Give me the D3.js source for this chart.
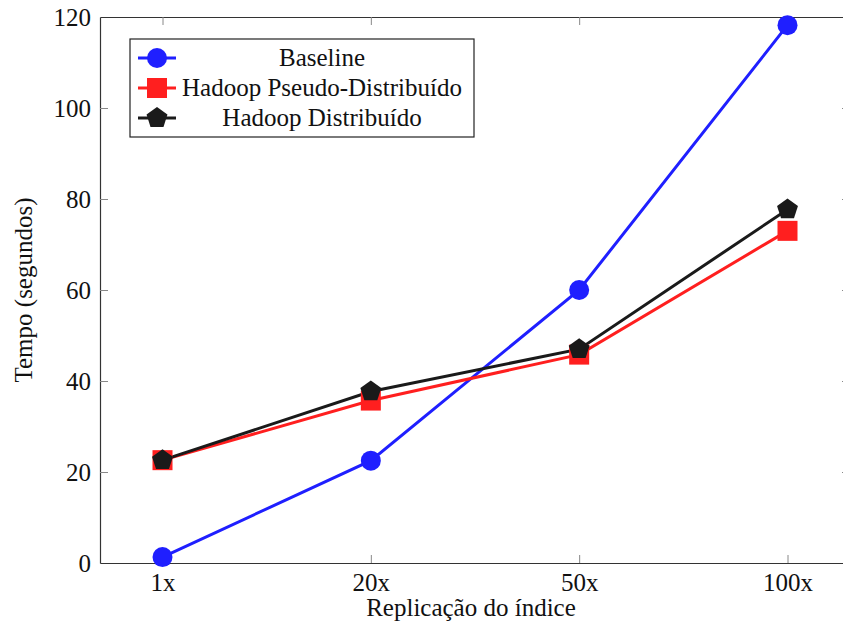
<!DOCTYPE html>
<html lang="pt">
    <head>
        <meta charset="utf-8">
        <title>Tempo x Replicação</title>
        <script src="https://d3js.org/d3.v7.min.js"></script>
        <style type="text/css">
            body { margin: 0; background: #fff; }
            svg text {
              font-family: "Liberation Serif", "Times New Roman", serif;
              fill: #111;
            }
            .axis path { stroke: #333; stroke-width: 1.2; }
            .axis line { stroke: #888; stroke-width: 1; }
            .axis text { font-size: 25px; }
        </style>
    </head>
    <body>
        <div id="chart"></div>
        <script type="text/javascript">

        //CONSTANTS
            const w = 843;
            const h = 628;
            const plotLeft = 100, plotRight = 850, plotTop = 17, plotBottom = 563;
            const fontSize = "25px";

        //DATA
            const categories = ["1x", "20x", "50x", "100x"];
            const yTicks = [0, 20, 40, 60, 80, 100, 120];
            const seriesNames = ["Baseline", "Hadoop Pseudo-Distribuído", "Hadoop Distribuído"];
            const baseline = [1.3, 22.5, 60.0, 118.2];
            const pseudo = [22.6, 35.7, 45.8, 73.0];
            const distribuido = [22.6, 37.7, 47.0, 77.7];

            const series = [
                {name: seriesNames[0], values: baseline, color: "#1f1fff", mark: "circle"},
                {name: seriesNames[1], values: pseudo, color: "#ff1f1f", mark: "square"},
                {name: seriesNames[2], values: distribuido, color: "#1a1a1a", mark: "pentagon"}
            ];

        //SCALES
            const xScale = d3.scalePoint()
                            .domain(categories)
                            .range([plotLeft, plotRight])
                            .padding(0.3);

            const yScale = d3.scaleLinear()
                            .domain([0, 120])
                            .range([plotBottom, plotTop]);

            const svg = d3.select("#chart")
                    .append("svg")
                    .attr("width", w)
                    .attr("height", h);

        //AXES (box with inward ticks on all sides)
            const tick = 8;
            svg.append("g")
                .attr("class", "axis")
                .attr("transform", "translate(0," + plotBottom + ")")
                .call(d3.axisBottom(xScale).tickSize(-tick).tickPadding(tick + 2).tickSizeOuter(0));
            svg.append("g")
                .attr("class", "axis")
                .attr("transform", "translate(0," + plotTop + ")")
                .call(d3.axisTop(xScale).tickSize(-tick).tickFormat("").tickSizeOuter(0));
            svg.append("g")
                .attr("class", "axis yaxis")
                .attr("transform", "translate(" + plotLeft + ",0)")
                .call(d3.axisLeft(yScale).tickValues(yTicks).tickSize(-tick).tickPadding(tick + 1).tickSizeOuter(0));
            svg.append("g")
                .attr("class", "axis yaxis")
                .attr("transform", "translate(" + plotRight + ",0)")
                .call(d3.axisRight(yScale).tickValues(yTicks).tickSize(-tick).tickFormat("").tickSizeOuter(0));

            // no tick marks at the corners
            svg.selectAll(".yaxis .tick").filter(d => d === 0 || d === 120).select("line").remove();
            svg.selectAll(".axis").attr("font-family", null);

        //AXIS LABELS
            svg.append("text")
                .attr("x", (plotLeft + plotRight) / 2 - 4)
                .attr("y", 616)
                .attr("text-anchor", "middle")
                .style("font-size", fontSize)
                .text("Replicação do índice");

            svg.append("text")
                .attr("transform", "translate(32," + ((plotTop + plotBottom) / 2) + ") rotate(-90)")
                .attr("text-anchor", "middle")
                .style("font-size", fontSize)
                .text("Tempo (segundos)");

        //MARKERS
            const pentagon = d3.symbol().type({
                draw(ctx, size) {
                    const r = Math.sqrt(size);
                    for (let i = 0; i < 5; i++) {
                        const a = -Math.PI / 2 + i * 2 * Math.PI / 5;
                        const px = r * Math.cos(a), py = r * Math.sin(a);
                        if (i === 0) ctx.moveTo(px, py); else ctx.lineTo(px, py);
                    }
                    ctx.closePath();
                }
            }).size(121)();

            function drawMark(g, mark, color) {
                if (mark === "circle") {
                    g.append("circle").attr("r", 10).attr("fill", color);
                } else if (mark === "square") {
                    g.append("rect").attr("x", -10).attr("y", -10)
                        .attr("width", 20).attr("height", 20).attr("fill", color);
                } else {
                    g.append("path").attr("d", pentagon).attr("fill", color);
                }
            }

        //LINES
            const line = d3.line()
                    .x((d, i) => xScale(categories[i]))
                    .y(d => yScale(d));

            series.forEach(s => {
                svg.append("path")
                    .datum(s.values)
                    .attr("d", line)
                    .attr("fill", "none")
                    .attr("stroke", s.color)
                    .attr("stroke-width", 3);
            });
            series.forEach(s => {
                svg.selectAll(null)
                    .data(s.values)
                    .enter()
                    .append("g")
                    .attr("transform", (d, i) => "translate(" + xScale(categories[i]) + "," + yScale(d) + ")")
                    .each(function() { drawMark(d3.select(this), s.mark, s.color); });
            });

        //LEGEND
            const legend = svg.append("g");
            legend.append("rect")
                .attr("x", 130).attr("y", 39)
                .attr("width", 344).attr("height", 98)
                .attr("fill", "#fff")
                .attr("stroke", "#222")
                .attr("stroke-width", 1.2);

            series.forEach((s, i) => {
                const y = 58 + i * 30;
                legend.append("line")
                    .attr("x1", 138).attr("x2", 176)
                    .attr("y1", y).attr("y2", y)
                    .attr("stroke", s.color).attr("stroke-width", 3);
                const g = legend.append("g").attr("transform", "translate(157," + y + ")");
                drawMark(g, s.mark, s.color);
                legend.append("text")
                    .attr("x", 322).attr("y", y + 8)
                    .attr("text-anchor", "middle")
                    .style("font-size", fontSize)
                    .text(s.name);
            });
        </script>
    </body>
</html>
